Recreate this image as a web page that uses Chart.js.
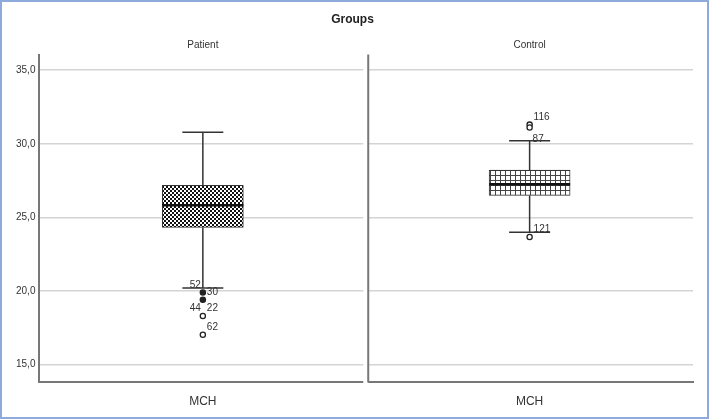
<!DOCTYPE html>
<html>
<head>
<meta charset="utf-8">
<script src="https://cdn.jsdelivr.net/npm/chart.js@4.4.1/dist/chart.umd.min.js"></script>
<style>
  body { margin: 0; background: #fff; }
  canvas { display: block; }
</style>
</head>
<body>
<canvas id="boxChart" width="709" height="419"></canvas>
<script>
// groups and values
const groups = ['Patient', 'Control'];
const axisLabel = 'MCH';
const q1 = [24.32, 26.49];
const q3 = [27.18, 28.22];
const median = [25.83, 27.25];
const whiskerLow = [20.2, 23.99];
const whiskerHigh = [30.78, 30.2];
const patientOutliers = [19.9, 19.4, 18.3, 17.03];
const patientOutlierLabels = [['52', ''], ['', '30'], ['44', '22'], ['', '62']];
const controlOutliers = [31.3, 31.1, 23.67];
const controlOutlierLabels = [['', '116'], ['', ''], ['', '121']];
const yTicks = [15, 20, 25, 30, 35];

const ctx = document.getElementById('boxChart').getContext('2d');

// fill patterns like the SPSS ones
function checkerPattern() {
  const c = document.createElement('canvas');
  c.width = 4; c.height = 4;
  const g = c.getContext('2d');
  g.fillStyle = '#fff'; g.fillRect(0, 0, 4, 4);
  g.fillStyle = '#111';
  g.fillRect(0, 0, 2, 2);
  g.fillRect(2, 2, 2, 2);
  return ctx.createPattern(c, 'repeat');
}
function gridPattern() {
  const c = document.createElement('canvas');
  c.width = 5; c.height = 5;
  const g = c.getContext('2d');
  g.fillStyle = '#fff'; g.fillRect(0, 0, 5, 5);
  g.fillStyle = '#444';
  g.fillRect(0, 0, 5, 1);
  g.fillRect(0, 0, 1, 5);
  return ctx.createPattern(c, 'repeat');
}

const fmt = v => v.toFixed(1).replace('.', ',');

const outlierPoints = [];
const outlierText = [];
patientOutliers.forEach((v, i) => { outlierPoints.push({ x: groups[0], y: v }); outlierText.push(patientOutlierLabels[i]); });
controlOutliers.forEach((v, i) => { outlierPoints.push({ x: groups[1], y: v }); outlierText.push(controlOutlierLabels[i]); });

const boxPlugin = {
  id: 'boxParts',
  beforeDatasetsDraw(chart) {
    const { ctx, chartArea, scales } = chart;
    const x = scales.x;
    const mid = (x.getPixelForValue(0) + x.getPixelForValue(1)) / 2 + 2;
    ctx.save();
    // panel gap + divider
    ctx.fillStyle = '#fff';
    ctx.fillRect(mid - 5, chartArea.top - 2, 5, chartArea.bottom - chartArea.top + 4);
    ctx.strokeStyle = '#777';
    ctx.lineWidth = 2;
    ctx.beginPath();
    ctx.moveTo(mid, chartArea.top - 1);
    ctx.lineTo(mid, chartArea.bottom + 1);
    ctx.stroke();
    // whiskers
    const y = scales.y;
    ctx.strokeStyle = '#333';
    ctx.lineWidth = 1.5;
    groups.forEach((g, i) => {
      const cx = x.getPixelForValue(i);
      ctx.beginPath();
      ctx.moveTo(cx, y.getPixelForValue(q3[i]));
      ctx.lineTo(cx, y.getPixelForValue(whiskerHigh[i]));
      ctx.moveTo(cx, y.getPixelForValue(q1[i]));
      ctx.lineTo(cx, y.getPixelForValue(whiskerLow[i]));
      ctx.moveTo(cx - 20.5, y.getPixelForValue(whiskerHigh[i]));
      ctx.lineTo(cx + 20.5, y.getPixelForValue(whiskerHigh[i]));
      ctx.moveTo(cx - 20.5, y.getPixelForValue(whiskerLow[i]));
      ctx.lineTo(cx + 20.5, y.getPixelForValue(whiskerLow[i]));
      ctx.stroke();
    });
    ctx.restore();
  },
  afterDatasetsDraw(chart) {
    const { ctx, scales } = chart;
    const x = scales.x, y = scales.y;
    ctx.save();
    ctx.strokeStyle = '#111';
    ctx.lineWidth = 2.5;
    groups.forEach((g, i) => {
      const cx = x.getPixelForValue(i);
      const my = y.getPixelForValue(median[i]);
      ctx.beginPath();
      ctx.moveTo(cx - 40.5, my);
      ctx.lineTo(cx + 40.5, my);
      ctx.stroke();
    });
    // outlier case numbers
    ctx.fillStyle = '#333';
    ctx.font = '10px "Liberation Sans", Arial, sans-serif';
    ctx.textBaseline = 'middle';
    outlierPoints.forEach((p, i) => {
      const px = x.getPixelForValue(groups.indexOf(p.x));
      const py = y.getPixelForValue(p.y);
      const [l, r] = outlierText[i];
      if (l) { ctx.textAlign = 'right'; ctx.fillText(l, px - 2, py - 7.5); }
      if (r) { ctx.textAlign = 'left'; ctx.fillText(r, px + 4, py - 7.5); }
    });
    // 87 sits under the pair of upper control outliers
    ctx.textAlign = 'left';
    ctx.fillText('87', x.getPixelForValue(1) + 3, y.getPixelForValue(controlOutliers[1]) + 12);
    ctx.restore();
  },
  afterDraw(chart) {
    const { ctx, width, height } = chart;
    ctx.save();
    ctx.strokeStyle = '#8eaadb';
    ctx.lineWidth = 2;
    ctx.strokeRect(1, 1, width - 2, height - 2);
    ctx.restore();
  }
};

new Chart(ctx, {
  type: 'bar',
  data: {
    labels: groups,
    datasets: [{
      label: 'Box',
      data: groups.map((g, i) => [q1[i], q3[i]]),
      backgroundColor: [checkerPattern(), gridPattern()],
      borderColor: '#333',
      borderWidth: 1,
      borderSkipped: false,
      barThickness: 81,
      order: 2
    }, {
      type: 'scatter',
      label: 'Outliers',
      data: outlierPoints,
      pointRadius: 2.6,
      pointBorderWidth: 1.3,
      pointBorderColor: '#222',
      pointBackgroundColor: ['#222', '#222', '#fff', '#fff', '#fff', '#fff', '#fff'],
      order: 1
    }]
  },
  options: {
    responsive: false,
    animation: false,
    layout: { padding: { left: 12, right: 16, top: 0, bottom: -3 } },
    plugins: {
      legend: { display: false },
      tooltip: { enabled: false },
      title: {
        display: true,
        text: 'Groups',
        color: '#222',
        font: { family: '"Liberation Sans", Arial, sans-serif', size: 12, weight: 'bold' },
        padding: { top: 12, bottom: 9 }
      }
    },
    scales: {
      x: {
        type: 'category',
        grid: { display: false, drawTicks: false },
        border: { display: true, color: '#777', width: 2 },
        ticks: {
          color: '#333',
          padding: 13,
          font: { family: '"Liberation Sans", Arial, sans-serif', size: 12 },
          callback: () => axisLabel
        }
      },
      x2: {
        type: 'category',
        position: 'top',
        labels: groups,
        grid: { display: false, drawTicks: false },
        border: { display: false },
        ticks: {
          color: '#333',
          padding: 4,
          font: { family: '"Liberation Sans", Arial, sans-serif', size: 10 }
        }
      },
      y: {
        min: 13.85,
        max: 36,
        afterBuildTicks: s => { s.ticks = yTicks.map(v => ({ value: v })); },
        grid: { color: '#d4d4d4', lineWidth: 1.5, drawTicks: false },
        border: { display: true, color: '#777', width: 2 },
        ticks: {
          color: '#333',
          padding: 4,
          font: { family: '"Liberation Sans", Arial, sans-serif', size: 10 },
          callback: v => fmt(v)
        }
      }
    }
  },
  plugins: [boxPlugin]
});
</script>
</body>
</html>
